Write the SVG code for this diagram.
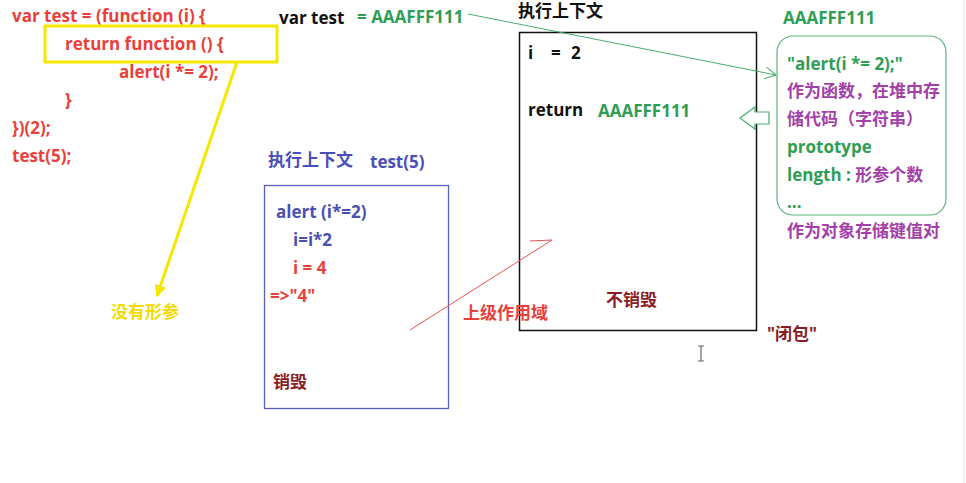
<svg xmlns="http://www.w3.org/2000/svg" width="966" height="483" viewBox="0 0 966 483">
<defs>
<style>
text{font-family:"Open Sans","Noto Sans CJK SC",sans-serif;font-weight:bold;font-size:17px}
.red{fill:#e8413c}
.dred{fill:#8b1c24}
.blk{fill:#111}
.grn{fill:#2f9e55}
.pur{fill:#a33fa8}
.blu{fill:#4a4fb8}
.ylw{fill:#f2dc00}
</style>
<marker id="ya" viewBox="0 0 10 10" refX="9" refY="5" markerWidth="4" markerHeight="4" orient="auto" markerUnits="strokeWidth">
<path d="M0,0 L10,5 L0,10 Z" fill="#f5e800"/>
</marker>
<marker id="ga" viewBox="0 0 12 12" refX="11" refY="6" markerWidth="12" markerHeight="12" orient="auto" markerUnits="userSpaceOnUse">
<path d="M0,0 L11,6 L0,12" fill="none" stroke="#4aab6e" stroke-width="1"/>
</marker>
</defs>
<rect width="966" height="483" fill="#fff"/>
<line x1="964" y1="0" x2="964" y2="483" stroke="#e4e4e4" stroke-width="1"/>

<g id="code">
<text x="12" y="22" class="red">var test = (function (i) {</text>
<text x="65" y="50" class="red">return function () {</text>
<text x="119" y="78" class="red">alert(i *= 2);</text>
<text x="65" y="106" class="red">}</text>
<text x="12" y="134" class="red">})(2);</text>
<text x="12" y="162" class="red">test(5);</text>
<rect x="45" y="26" width="232" height="36" fill="none" stroke="#f5e800" stroke-width="3"/>
</g>

<g id="no-param">
<text x="111" y="318" class="ylw">没有形参</text>
</g>

<g id="var-test">
<text x="279" y="24" class="blk">var test</text>
<text x="357" y="23" class="grn">= AAAFFF111</text>
</g>

<g id="outer-context">
<text x="518" y="17" class="blk">执行上下文</text>
<rect x="519.5" y="32.5" width="237" height="298" fill="none" stroke="#111" stroke-width="1.5"/>
<text y="59" class="blk"><tspan x="528">i</tspan><tspan x="551">=</tspan><tspan x="571">2</tspan></text>
<text x="528" y="116" class="blk">return</text>
<text x="598" y="117" class="grn">AAAFFF111</text>
<text x="606" y="306" class="dred">不销毁</text>
</g>

<g id="heap-fn">
<text x="783" y="24" class="grn">AAAFFF111</text>
<rect x="777" y="36" width="169" height="179" rx="16" ry="16" fill="none" stroke="#5db37d" stroke-width="1.2"/>
<text x="787" y="70" class="grn">"alert(i *= 2);"</text>
<text x="787" y="97" class="pur">作为函数，在堆中存</text>
<text x="787" y="125" class="pur">储代码（字符串）</text>
<text x="787" y="153" class="grn">prototype</text>
<text x="787" y="181"><tspan class="grn">length : </tspan><tspan class="pur">形参个数</tspan></text>
<text x="787" y="208" class="grn">...</text>
<text x="787" y="237" class="pur">作为对象存储键值对</text>
</g>

<g id="inner-context">
<text x="268" y="166" class="blu">执行上下文</text>
<text x="370" y="168" class="blu">test(5)</text>
<rect x="264.5" y="185.5" width="184" height="223" fill="none" stroke="#5a5fc0" stroke-width="1.3"/>
<text x="276" y="218" class="blu">alert (i*=2)</text>
<text x="293" y="246" class="blu">i=i*2</text>
<text x="293" y="274" class="red">i = 4</text>
<text x="270" y="302" class="red">=&gt;"4"</text>
<text x="273" y="388" class="dred">销毁</text>
</g>

<g id="scope-label">
<text x="463" y="319" class="red">上级作用域</text>
</g>

<g id="closure-label">
<text x="767" y="340" class="dred">"闭包"</text>
</g>

<g id="connectors">
<line x1="237" y1="62" x2="157" y2="296" stroke="#f5e800" stroke-width="3" marker-end="url(#ya)"/>
<line x1="468" y1="14" x2="776" y2="75" stroke="#4aab6e" stroke-width="1" marker-end="url(#ga)"/>
<path d="M740,118 L755,107 L755,112 L769,112 L769,124 L755,124 L755,129 Z" fill="#fff" stroke="#4aab6e" stroke-width="1.2"/>
<path d="M410,330 L552,240 L530,241" fill="none" stroke="#e8534e" stroke-width="1"/>
</g>

<g id="cursor">
<path d="M698,346 H704 M701,346 V361 M698,361 H704" stroke="#666" stroke-width="1.2" fill="none"/>
</g>
</svg>
